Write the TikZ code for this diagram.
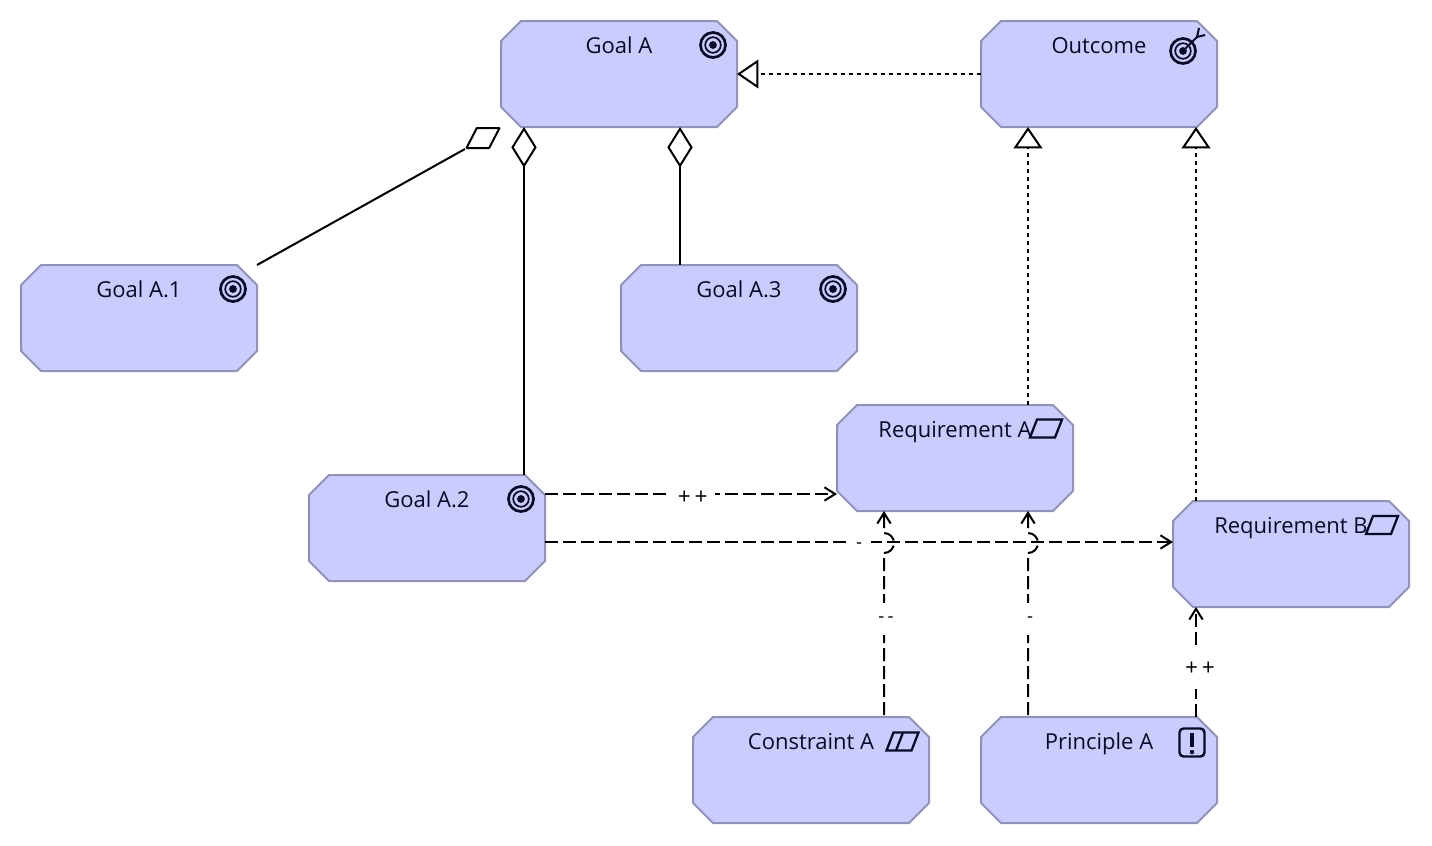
\documentclass[tikz,border=0pt]{standalone}
\usepackage{fontspec}
\setmainfont{Open Sans}
\usetikzlibrary{arrows.meta}
\definecolor{elemfill}{HTML}{C9CCFD}
\definecolor{elemline}{HTML}{9292B8}
\definecolor{icondark}{HTML}{0A0A28}
\makeatletter
\pgfdeclareshape{octabox}{
  \inheritsavedanchors[from=rectangle]
  \inheritanchorborder[from=rectangle]
  \inheritanchor[from=rectangle]{center}
  \inheritanchor[from=rectangle]{north}
  \inheritanchor[from=rectangle]{south}
  \inheritanchor[from=rectangle]{east}
  \inheritanchor[from=rectangle]{west}
  \inheritanchor[from=rectangle]{north east}
  \inheritanchor[from=rectangle]{north west}
  \inheritanchor[from=rectangle]{south east}
  \inheritanchor[from=rectangle]{south west}
  \backgroundpath{
    \southwest \pgf@xa=\pgf@x \pgf@ya=\pgf@y
    \northeast \pgf@xb=\pgf@x \pgf@yb=\pgf@y
    \pgfpathmoveto{\pgfpoint{\pgf@xa+15pt}{\pgf@ya}}
    \pgfpathlineto{\pgfpoint{\pgf@xb-15pt}{\pgf@ya}}
    \pgfpathlineto{\pgfpoint{\pgf@xb}{\pgf@ya+15pt}}
    \pgfpathlineto{\pgfpoint{\pgf@xb}{\pgf@yb-15pt}}
    \pgfpathlineto{\pgfpoint{\pgf@xb-15pt}{\pgf@yb}}
    \pgfpathlineto{\pgfpoint{\pgf@xa+15pt}{\pgf@yb}}
    \pgfpathlineto{\pgfpoint{\pgf@xa}{\pgf@yb-15pt}}
    \pgfpathlineto{\pgfpoint{\pgf@xa}{\pgf@ya+15pt}}
    \pgfpathclose
  }
}
\makeatother
\tikzset{
  pics/goalicon/.style={code={
    \draw[icondark,line width=2pt] (0,0) circle (12.5);
    \draw[icondark,line width=1.3pt] (0,0) circle (7.8);
    \fill[icondark] (0,0) circle (3.9);
  }},
  pics/outcomeicon/.style={code={
    \draw[icondark,line width=2pt] (0,0) circle (12.5);
    \draw[icondark,line width=1.3pt] (0,0) circle (7.8);
    \fill[icondark] (0,0) circle (3.9);
    \draw[icondark,line width=1.5pt] (0,0) -- (14,-14);
    \draw[icondark,line width=1.5pt] (14,-14) -- (16,-23) (14,-14) -- (22,-16);
  }},
  pics/reqicon/.style={code={
    \draw[icondark,line width=1.7pt,line join=miter] (-16,9) -- (-9,-9) -- (16,-9) -- (9,9) -- cycle;
  }},
  pics/constricon/.style={code={
    \draw[icondark,line width=1.7pt,line join=miter] (-16,9) -- (-9,-9) -- (16,-9) -- (9,9) -- cycle;
    \draw[icondark,line width=1.7pt] (-6.5,9) -- (0.5,-9);
  }},
  pics/princicon/.style={code={
    \draw[icondark,line width=1.8pt,rounded corners=3pt] (-12.5,-14) rectangle (12.5,14);
    \draw[icondark,line width=3pt] (0,-9.5) -- (0,4.5);
    \fill[icondark] (0,9.5) circle (2.2);
  }}
}
\begin{document}
\begin{tikzpicture}[x=0.75pt,y=-0.75pt,line join=bevel]
  \tikzstyle{element}=[octabox,draw=elemline,fill=elemfill,line width=1.5pt,minimum width=177pt,minimum height=79.5pt,inner sep=0pt,outer sep=0pt]
  \tikzstyle{elemtext}=[label distance=-31.5pt,font=\fontsize{16.5}{20}\selectfont,text=icondark,text height=12pt,text depth=3.5pt]
  \tikzstyle{conn}=[line width=1.5pt,black]
  \tikzstyle{realize}=[conn,dash pattern=on 3pt off 3pt,-{Triangle[open,fill=white,length=16pt,width=21.5pt,line width=1.5pt]}]
  \tikzstyle{aggr}=[conn,-{Diamond[open,fill=white,length=30.5pt,width=19pt,line width=1.5pt]}]
  \tikzstyle{influ}=[conn,dash pattern=on 9.75pt off 3.75pt,-{Straight Barb[length=8pt,width=10pt,line width=1.5pt]}]
  \tikzstyle{plustext}=[fill=white,inner sep=0pt,minimum width=33pt,minimum height=30pt,yshift=-3pt,font=\fontsize{17}{18}\selectfont]
  \tikzstyle{minustext}=[fill=white,inner sep=0pt,minimum width=18pt,minimum height=24pt,yshift=-3pt,font=\fontsize{14}{15}\selectfont]
  \useasboundingbox (0,0) rectangle (1432,846);

  \node[element,label={[elemtext]north:Goal A}] (goalA) at (619,74) {};
  \node[element,label={[elemtext]north:Outcome}] (outcome) at (1099,74) {};
  \node[element,label={[elemtext]north:Goal A.1}] (goalA1) at (139,318) {};
  \node[element,label={[elemtext]north:Goal A.3}] (goalA3) at (739,318) {};
  \node[element,label={[elemtext]north:Goal A.2}] (goalA2) at (427,528) {};
  \node[element,label={[elemtext]north:Requirement A}] (reqA) at (955,458) {};
  \node[element,label={[elemtext]north:Requirement B}] (reqB) at (1291,554) {};
  \node[element,label={[elemtext]north:Constraint A}] (constrA) at (811,770) {};
  \node[element,label={[elemtext]north:Principle A}] (princA) at (1099,770) {};

  % icons
  \pic at (713,45) {goalicon};
  \pic at (1183,51) {outcomeicon};
  \pic at (233,289) {goalicon};
  \pic at (833,289) {goalicon};
  \pic at (521,499) {goalicon};
  \pic at (1046,428.5) {reqicon};
  \pic at (1382,525) {reqicon};
  \pic at (902.5,741.5) {constricon};
  \pic at (1192,742.5) {princicon};

  % parallelogram end of the first aggregation
  \node[draw,line width=1.5pt,fill=white,xslant=0.52,transform shape,minimum width=17pt,minimum height=15pt,inner sep=0pt] (aggend) at (483,138) {};

  \draw[realize] (outcome.west) -- (goalA.east);
  \draw[realize] ([shift={(73,0)}]reqA.north) -- ([shift={(-71,0)}]outcome.south);
  \draw[realize] ([shift={(-95,0)}]reqB.north) -- ([shift={(97,0)}]outcome.south);

  \draw[conn] (goalA1.north east) -- (aggend.south west);
  \draw[aggr] ([shift={(97,0)}]goalA2.north) -- ([shift={(-95,0)}]goalA.south);
  \draw[aggr] ([shift={(-59,0)}]goalA3.north) -- ([shift={(61,0)}]goalA.south);

  \draw[influ] ([shift={(0,-34)}]goalA2.east) -- node[plustext,pos=0.506] (infl1) {+\,+} ([shift={(0,36)}]reqA.west);
  \draw[influ] ([shift={(0,14)}]goalA2.east) -- node[minustext,pos=0.50] (infl2) {-} ([shift={(0,-12)}]reqB.west);

  \draw[influ,dash phase=12pt] ([shift={(73,0)}]constrA.north) -- node[minustext,pos=0.62,xshift=1.5pt] (infl3) {-\,-} (884,553) arc[start angle=90,end angle=-90,radius=10] -- ([shift={(-71,0)}]reqA.south);
  \draw[influ,dash phase=12pt] ([shift={(-71,0)}]princA.north) -- node[minustext,pos=0.62,xshift=1.5pt] (infl4) {-} (1028,553) arc[start angle=90,end angle=-90,radius=10] -- ([shift={(73,0)}]reqA.south);
  \draw[influ] ([shift={(97,0)}]princA.north) -- node[plustext,pos=0.477,xshift=3pt] (infl5) {+\,+} ([shift={(-95,0)}]reqB.south);
\end{tikzpicture}
\end{document}
